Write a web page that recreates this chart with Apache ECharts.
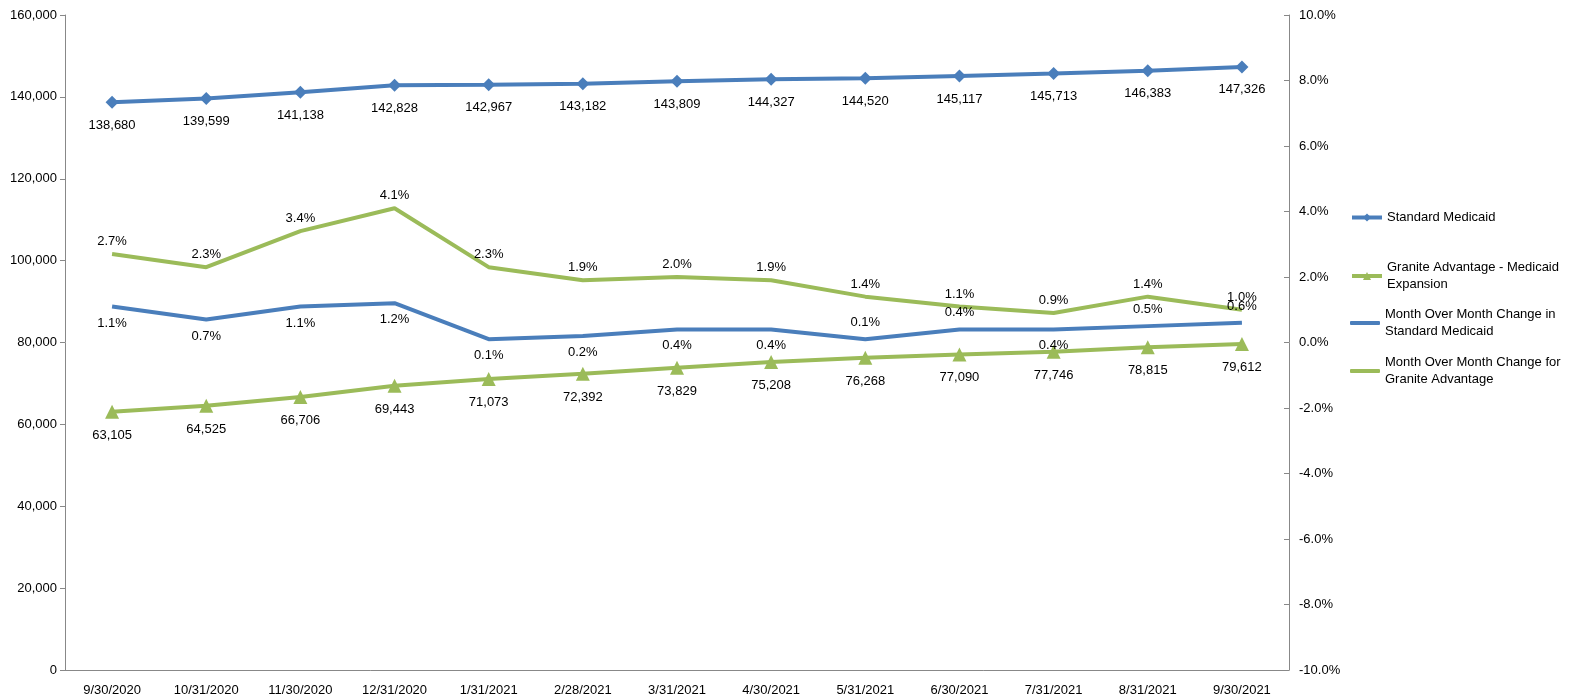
<!DOCTYPE html>
<html>
<head>
<meta charset="utf-8">
<title>Medicaid</title>
<script src="https://cdn.jsdelivr.net/npm/echarts@6/dist/echarts.min.js"></script>
<style>
	html, body { margin: 0; padding: 0; background: #fff; }
	#chart { width: 1570px; height: 697px; }
</style>
</head>
<body>
<div id="chart"></div>
<script>
	var dates = ['9/30/2020', '10/31/2020', '11/30/2020', '12/31/2020', '1/31/2021', '2/28/2021', '3/31/2021',
		'4/30/2021', '5/31/2021', '6/30/2021', '7/31/2021', '8/31/2021', '9/30/2021'];
	var standard = [138680, 139599, 141138, 142828, 142967, 143182, 143809, 144327, 144520, 145117, 145713, 146383, 147326];
	var granite = [63105, 64525, 66706, 69443, 71073, 72392, 73829, 75208, 76268, 77090, 77746, 78815, 79612];
	var momStandard = [1.1, 0.7, 1.1, 1.2, 0.1, 0.2, 0.4, 0.4, 0.1, 0.4, 0.4, 0.5, 0.6];
	var momGranite = [2.7, 2.3, 3.4, 4.1, 2.3, 1.9, 2.0, 1.9, 1.4, 1.1, 0.9, 1.4, 1.0];
	// label above the blue MoM line for these points
	var momStdAbove = [8, 9, 11, 12];
	var names = ['Standard Medicaid', 'Granite Advantage - Medicaid\nExpansion',
		'Month Over Month Change in\nStandard Medicaid', 'Month Over Month Change for\nGranite Advantage'];

	var blue = '#4a7ebb';
	var green = '#9bbb59';
	var colors = [blue, green, blue, green];
	var fmtInt = function(p) { return p.value.toLocaleString('en-US'); };
	var fmtPct = function(p) { return p.value.toFixed(1) + '%'; };
	var lblStyle = { color: '#000', fontSize: 13, fontFamily: 'Liberation Sans' };

	// one legend block per series, stacked on the right
	var legendTops = [204, 254, 301, 349];
	var legends = names.map(function(n, i) {
		var item = { name: n, itemStyle: { color: colors[i] } };
		if (i >= 2) item.icon = 'roundRect';
		return {
			left: 1345, top: legendTops[i],
			itemWidth: 30, itemHeight: i >= 2 ? 4 : 10,
			lineStyle: { width: 4 },
			textStyle: { color: '#000', fontSize: 13, lineHeight: 17, fontFamily: 'Liberation Sans' },
			data: [item]
		};
	});

	var chart = echarts.init(document.getElementById('chart'));
	chart.setOption({
		animation: false,
		textStyle: { fontFamily: 'Liberation Sans' },
		grid: { left: 65, right: 281, top: 15, bottom: 27 },
		legend: legends,
		xAxis: {
			type: 'category',
			data: dates,
			boundaryGap: true,
			axisLine: { lineStyle: { color: '#888' } },
			axisTick: { show: false },
			axisLabel: { color: '#000', fontSize: 13, margin: 14 }
		},
		yAxis: [{
			type: 'value', min: 0, max: 160000, interval: 20000,
			splitLine: { show: false },
			axisLine: { show: true, lineStyle: { color: '#888' } },
			axisTick: { show: true, length: 5, lineStyle: { color: '#888' } },
			axisLabel: { color: '#000', fontSize: 13, formatter: function(v) { return v.toLocaleString('en-US'); } }
		}, {
			type: 'value', min: -10, max: 10, interval: 2,
			splitLine: { show: false },
			axisLine: { show: true, lineStyle: { color: '#888' } },
			axisTick: { show: true, length: 5, inside: true, lineStyle: { color: '#888' } },
			axisLabel: { color: '#000', fontSize: 13, margin: 10, formatter: function(v) { return v.toFixed(1) + '%'; } }
		}],
		series: [{
			name: names[0],
			type: 'line', data: standard,
			symbol: 'diamond', symbolSize: 13,
			lineStyle: { width: 4, color: blue }, itemStyle: { color: blue },
			label: Object.assign({ show: true, position: 'bottom', distance: 10, formatter: fmtInt }, lblStyle)
		}, {
			name: names[1],
			type: 'line', data: granite,
			symbol: 'triangle', symbolSize: 14,
			lineStyle: { width: 4, color: green }, itemStyle: { color: green },
			label: Object.assign({ show: true, position: 'bottom', distance: 10, formatter: fmtInt }, lblStyle)
		}, {
			name: names[2],
			type: 'line', yAxisIndex: 1, symbol: 'circle', symbolSize: 0,
			data: momStandard.map(function(v, i) {
				return { value: v, label: { position: momStdAbove.indexOf(i) >= 0 ? 'top' : 'bottom' } };
			}),
			lineStyle: { width: 4, color: blue }, itemStyle: { color: blue },
			label: Object.assign({ show: true, distance: 10, formatter: fmtPct }, lblStyle)
		}, {
			name: names[3],
			type: 'line', yAxisIndex: 1, symbol: 'circle', symbolSize: 0,
			data: momGranite,
			lineStyle: { width: 4, color: green }, itemStyle: { color: green },
			label: Object.assign({ show: true, position: 'top', distance: 6, formatter: fmtPct }, lblStyle)
		}]
	});
</script>
</body>
</html>
